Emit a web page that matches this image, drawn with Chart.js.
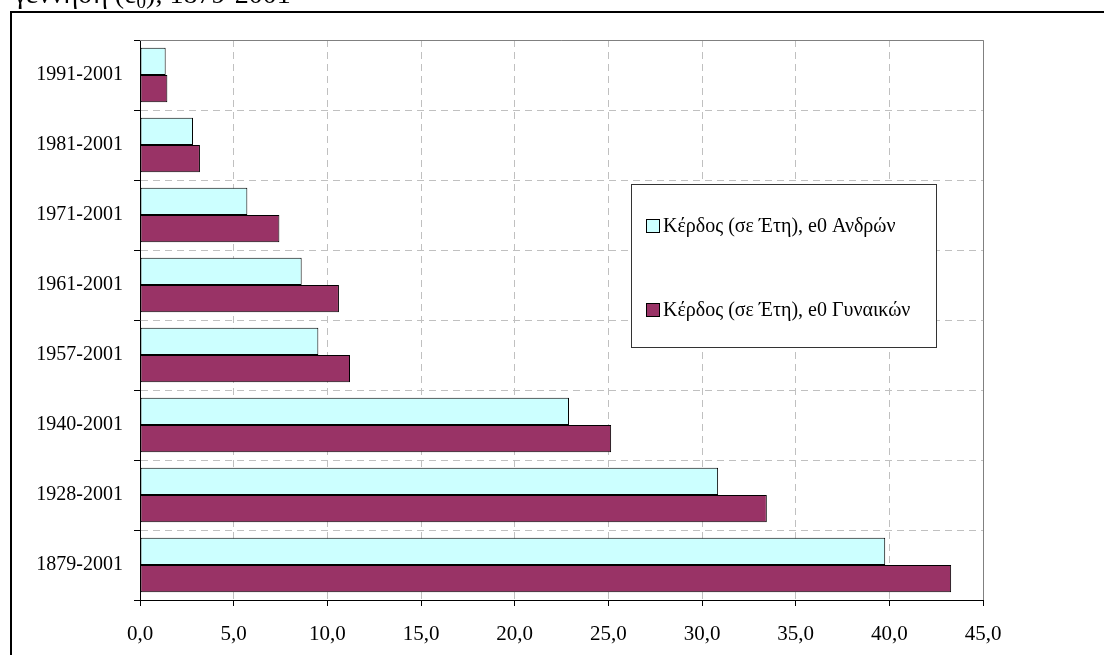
<!DOCTYPE html>
<html>
<head>
<meta charset="utf-8">
<script src="https://cdn.jsdelivr.net/npm/chart.js@4/dist/chart.umd.min.js"></script>
<style>
html,body{margin:0;padding:0;background:#fff;overflow:hidden;}
#wrap{position:absolute;left:0;top:0;width:1104px;height:655px;}
</style>
</head>
<body>
<div id="wrap"><canvas id="c" width="1104" height="655"></canvas></div>
<script>
const categories = ["1991-2001","1981-2001","1971-2001","1961-2001","1957-2001","1940-2001","1928-2001","1879-2001"];
const menGain = [1.37, 2.83, 5.73, 8.63, 9.52, 22.9, 30.86, 39.78];
const womenGain = [1.46, 3.2, 7.44, 10.62, 11.21, 25.15, 33.46, 43.3];
const seriesNames = ["Κέρδος (σε Έτη), e0 Ανδρών", "Κέρδος (σε Έτη), e0 Γυναικών"];
const titleParts = ["γέννηση (e", "0", "), 1879-2001"];
const xTicks = [0,5,10,15,20,25,30,35,40,45];

const FONT = "'Liberation Serif', 'Times New Roman', serif";

const decor = {
  id: 'decor',
  beforeDraw(chart) {
    const ctx = chart.ctx;
    ctx.save();
    ctx.fillStyle = '#fff';
    ctx.fillRect(0, 0, chart.width, chart.height);
    ctx.restore();
  },
  afterDraw(chart) {
    const ctx = chart.ctx;
    const a = chart.chartArea;
    ctx.save();
    // plot area top/right border
    ctx.strokeStyle = '#808080';
    ctx.lineWidth = 1;
    ctx.beginPath();
    ctx.moveTo(a.left, a.top + 0.5);
    ctx.lineTo(a.right + 0.5, a.top + 0.5);
    ctx.lineTo(a.right + 0.5, a.bottom);
    ctx.stroke();
    // outer border
    ctx.strokeStyle = '#000';
    ctx.lineWidth = 2;
    ctx.beginPath();
    ctx.moveTo(11, chart.height + 5);
    ctx.lineTo(11, 12);
    ctx.lineTo(chart.width + 5, 12);
    ctx.stroke();
    // title (clipped at the top)
    ctx.fillStyle = '#000';
    ctx.textBaseline = 'alphabetic';
    ctx.textAlign = 'left';
    ctx.font = '28px ' + FONT;
    let x = 14;
    const y = 3;
    ctx.fillText(titleParts[0], x, y);
    x += ctx.measureText(titleParts[0]).width;
    ctx.font = '19px ' + FONT;
    ctx.fillText(titleParts[1], x, y + 5);
    x += ctx.measureText(titleParts[1]).width;
    ctx.font = '28px ' + FONT;
    ctx.fillText(titleParts[2], x, y);
    // legend box
    const lx = 631, ly = 184, lw = 305, lh = 163;
    ctx.fillStyle = '#fff';
    ctx.fillRect(lx, ly, lw, lh);
    ctx.strokeStyle = '#333';
    ctx.lineWidth = 1;
    ctx.strokeRect(lx + 0.5, ly + 0.5, lw, lh);
    const rows = [226, 310];
    chart.data.datasets.forEach((ds, i) => {
      const cy = rows[i];
      ctx.fillStyle = ds.backgroundColor;
      ctx.fillRect(646, cy - 7, 14, 14);
      ctx.strokeStyle = '#000';
      ctx.lineWidth = 1;
      ctx.strokeRect(646.5, cy - 6.5, 13, 13);
      ctx.fillStyle = '#000';
      ctx.font = '20px ' + FONT;
      ctx.textBaseline = 'middle';
      ctx.fillText(ds.label, 663, cy + 1);
    });
    ctx.restore();
  }
};

new Chart(document.getElementById('c'), {
  type: 'bar',
  data: {
    labels: categories,
    datasets: [
      { label: seriesNames[0], data: menGain, backgroundColor: '#CCFFFF', borderColor: '#000', borderWidth: 1, borderSkipped: false },
      { label: seriesNames[1], data: womenGain, backgroundColor: '#993366', borderColor: '#000', borderWidth: 1, borderSkipped: false }
    ]
  },
  options: {
    indexAxis: 'y',
    responsive: false,
    animation: false,
    devicePixelRatio: 1,
    layout: { padding: { left: 0, top: 40, right: 121, bottom: 0 } },
    datasets: { bar: { categoryPercentage: 0.78, barPercentage: 1.0 } },
    plugins: { legend: { display: false }, tooltip: { enabled: false }, title: { display: false } },
    scales: {
      x: {
        type: 'linear',
        min: 0, max: 45,
        afterBuildTicks(scale) { scale.ticks = xTicks.map(v => ({ value: v })); },
        afterFit(scale) { scale.height = 55; },
        ticks: {
          color: '#000',
          font: { family: FONT, size: 21 },
          padding: 16,
          maxRotation: 0,
          callback: v => Number(v).toFixed(1).replace('.', ',')
        },
        grid: { color: '#c0c0c0', lineWidth: 1, tickLength: 6, tickColor: '#000', tickBorderDash: [], drawTicks: true },
        border: { color: '#000', width: 1, dash: [7, 5] }
      },
      y: {
        type: 'category',
        afterFit(scale) { scale.width = 140; },
        ticks: {
          color: '#000',
          font: { family: FONT, size: 20 },
          padding: 11
        },
        grid: { color: '#c0c0c0', lineWidth: 1, tickLength: 6, tickColor: '#000', tickBorderDash: [], offset: true },
        border: { color: '#000', width: 1, dash: [7, 5] }
      }
    }
  },
  plugins: [decor]
});
</script>
</body>
</html>
